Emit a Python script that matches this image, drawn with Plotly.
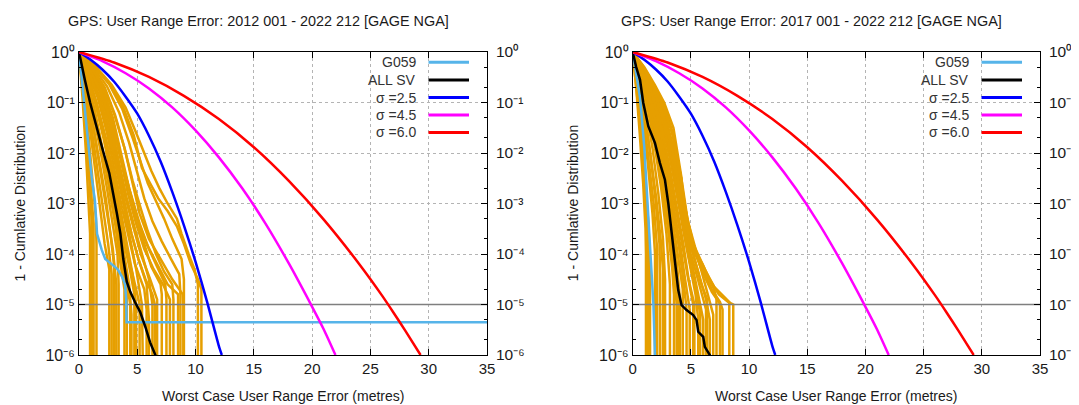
import plotly.graph_objects as go

# page is rendered with an 8px body margin; figure fills the rest of the 1079x405 window
PAGE_OFF = 8
W, H = 1079 - PAGE_OFF, 405 - PAGE_OFF

# ---------------- data ----------------
titles = ["GPS: User Range Error: 2012 001 - 2022 212 [GAGE NGA]",
          "GPS: User Range Error: 2017 001 - 2022 212 [GAGE NGA]"]
x_title = "Worst Case User Range Error (metres)"
y_title = "1 - Cumlative Distribution"
legend_names = ["G059", "ALL SV", "σ =2.5", "σ =4.5", "σ =6.0"]

y_tickvals = [1, 1e-1, 1e-2, 1e-3, 1e-4, 1e-5, 1e-6]
y_ticktext = ["10⁰", "10⁻¹", "10⁻²", "10⁻³", "10⁻⁴", "10⁻⁵", "10⁻⁶"]
y_minorvals = [m * 10.0 ** (-k) for k in range(1, 7) for m in (2, 5)]
x_tickvals = [0, 5, 10, 15, 20, 25, 30, 35]
threshold = 1e-5

# sigma reference curves
sig25_x = [0, 1, 2, 3, 4, 5, 6, 7, 8, 9, 10, 11, 12, 12.25]
sig25_p = [1, 0.70, 0.45, 0.26, 0.13, 0.06, 0.022, 0.0068, 0.0017, 0.00037, 7e-5, 1.1e-5, 1.5e-6, 1e-6]
sig45_x = [0, 2, 4, 6, 8, 10, 12, 14, 16, 18, 20, 21, 22]
sig45_p = [1, 0.66, 0.38, 0.19, 0.08, 0.028, 0.0082, 0.002, 0.0004, 6.5e-5, 9e-6, 3.2e-6, 1e-6]
sig60_x = [0, 3, 6, 9, 12, 15, 18, 21, 24, 26, 27, 28, 29.3]
sig60_p = [1, 0.62, 0.32, 0.135, 0.047, 0.013, 0.0028, 0.00048, 6.5e-5, 1.5e-5, 6.8e-6, 3e-6, 1e-6]

# left panel (2012-2022): G059 and ALL SV, log10 of probability
left_g059_x = [0, 0.25, 0.5, 0.8, 1.1, 1.37, 1.55, 1.95, 2.25, 2.9, 3.3, 3.7, 3.95, 4.05, 4.08, 35]
left_g059_e = [0, -0.6, -1.2, -1.9, -2.5, -2.95, -3.6, -3.92, -4.1, -4.22, -4.3, -4.45, -4.6, -4.9, -5.35, -5.35]
left_all_x = [0, 0.2, 0.5, 0.95, 1.5, 2.05, 2.6, 3.0, 3.25, 3.55, 3.8, 4.1, 4.4, 4.8, 5.25, 5.7, 6.1, 6.55, 6.6]
left_all_e = [0, -0.25, -0.55, -1.0, -1.5, -1.95, -2.4, -2.85, -3.2, -3.6, -4.1, -4.55, -4.75, -4.95, -5.15, -5.45, -5.75, -6.0, -6.3]

# left panel individual SVs (x, log10 p)
left_sv_x = [
    [0, 0.3, 0.6, 0.85, 0.95, 0.95],
    [0, 0.35, 0.7, 1.0, 1.1, 1.1],
    [0, 0.4, 0.8, 1.2, 1.45, 1.5, 1.5],
    [0, 0.5, 1.0, 1.5, 2.0, 2.5, 2.8, 2.8],
    [0, 0.5, 1.1, 1.7, 2.3, 2.7, 3.0, 3.0],
    [0, 0.6, 1.2, 1.8, 2.4, 2.9, 3.3, 3.4, 3.4],
    [0, 0.6, 1.3, 2.0, 2.6, 3.1, 3.5, 3.9, 3.9],
    [0, 0.7, 1.4, 2.1, 2.8, 3.3, 3.8, 4.3, 4.5, 4.5],
    [0, 0.7, 1.5, 2.2, 2.9, 3.5, 4.0, 4.6, 5.2, 5.2],
    [0, 0.8, 1.6, 2.4, 3.1, 3.7, 4.3, 4.8, 5.6, 5.8, 5.8],
    [0, 0.8, 1.7, 2.5, 3.2, 3.9, 4.5, 5.1, 5.8, 6.0, 6.0],
    [0, 0.9, 1.8, 2.6, 3.3, 4.0, 4.7, 5.3, 6.1, 6.7, 6.7],
    [0, 1.0, 2.0, 2.8, 3.5, 4.2, 4.9, 5.6, 6.4, 7.2, 7.8, 7.8],
    [0, 1.0, 2.0, 2.9, 3.6, 4.3, 5.0, 5.8, 6.7, 7.6, 8.5, 8.5],
    [0, 1.1, 2.2, 3.1, 3.9, 4.6, 5.2, 6.0, 7.0, 8.0, 8.9, 8.95, 8.95],
    [0, 1.4, 2.8, 4.0, 4.9, 5.6, 6.2, 6.9, 7.6, 8.4, 8.8, 9.4, 9.9, 10.2, 10.2],
    [0, 1.3, 2.6, 3.8, 4.7, 5.4, 6.1, 6.8, 7.6, 8.4, 9.0, 9.6, 10.2, 10.5, 10.5],
    [0, 0.45, 0.9, 1.35, 1.8, 2.2, 2.6, 2.6],
    [0, 0.55, 1.1, 1.6, 2.1, 2.5, 2.9, 3.2, 3.2],
    [0, 0.65, 1.3, 1.9, 2.5, 3.1, 3.6, 4.1, 4.1],
    [0, 0.75, 1.5, 2.3, 3.0, 3.6, 4.1, 4.6, 4.9, 4.9],
    [0, 0.85, 1.7, 2.5, 3.2, 3.8, 4.4, 4.9, 5.4, 5.5],
    [0, 0.9, 1.9, 2.7, 3.4, 4.1, 4.8, 5.4, 6.0, 6.3, 6.3],
    [0, 0.95, 1.9, 2.8, 3.6, 4.3, 5.2, 6.0, 6.8, 7.4, 7.5, 7.5],
    [0, 0.55, 1.2, 1.9, 2.6, 3.2, 3.7, 4.2, 4.4, 4.4],
    [0, 0.9, 1.85, 2.75, 3.55, 4.3, 5.0, 5.6, 6.2, 7.0, 7.1, 7.1],
    [0, 1.05, 2.1, 3.05, 3.9, 4.6, 5.3, 5.9, 6.6, 7.3, 8.0, 8.1, 8.1],
    [0, 1.15, 2.4, 3.45, 4.3, 5.0, 5.6, 6.3, 7.1, 7.9, 8.6, 8.7, 8.7],
    [0, 0.3, 0.65, 0.95, 1.25, 1.25],
    [0, 0.7, 1.45, 2.2, 2.9, 3.45, 3.95, 4.4, 4.75, 4.75],
    [0, 1.25, 2.6, 3.7, 4.6, 5.3, 5.9, 6.6, 7.3, 8.0, 8.8, 9.0, 9.0],
    [0, 0.8, 1.65, 2.45, 3.15, 3.8, 4.5, 5.1, 5.7, 6.3, 6.5, 6.5],
]
left_sv_e = [
    [0, -0.9, -2.0, -3.0, -3.6, -6.5],
    [0, -0.8, -1.8, -2.9, -3.4, -6.5],
    [0, -0.7, -1.6, -2.6, -3.3, -3.8, -6.5],
    [0, -0.65, -1.4, -2.2, -3.0, -3.8, -4.4, -6.5],
    [0, -0.55, -1.3, -2.1, -2.9, -3.6, -4.2, -6.5],
    [0, -0.5, -1.2, -1.9, -2.7, -3.4, -4.0, -4.6, -6.5],
    [0, -0.5, -1.1, -1.9, -2.7, -3.4, -4.1, -4.7, -6.5],
    [0, -0.45, -1.0, -1.7, -2.5, -3.2, -3.9, -4.6, -5.2, -6.5],
    [0, -0.4, -1.0, -1.7, -2.5, -3.3, -3.9, -4.4, -5.0, -6.5],
    [0, -0.4, -0.9, -1.6, -2.4, -3.1, -3.7, -4.2, -4.7, -5.1, -6.5],
    [0, -0.35, -0.85, -1.5, -2.3, -3.0, -3.6, -4.1, -4.6, -5.3, -6.5],
    [0, -0.35, -0.8, -1.45, -2.2, -2.9, -3.5, -4.0, -4.5, -4.9, -6.5],
    [0, -0.3, -0.75, -1.35, -2.05, -2.8, -3.4, -3.9, -4.3, -4.6, -4.9, -6.5],
    [0, -0.3, -0.7, -1.3, -2.0, -2.7, -3.3, -3.8, -4.2, -4.6, -4.8, -6.5],
    [0, -0.3, -0.7, -1.25, -1.9, -2.6, -3.2, -3.7, -4.1, -4.5, -4.8, -5.0, -6.5],
    [0, -0.28, -0.65, -1.1, -1.6, -2.0, -2.35, -2.7, -3.0, -3.3, -3.6, -4.0, -4.3, -4.6, -6.5],
    [0, -0.27, -0.62, -1.1, -1.65, -2.3, -2.6, -2.9, -3.15, -3.45, -3.8, -4.2, -4.5, -4.7, -6.5],
    [0, -0.6, -1.45, -2.3, -3.1, -3.8, -4.3, -6.5],
    [0, -0.55, -1.3, -2.0, -2.7, -3.3, -3.9, -4.6, -6.5],
    [0, -0.5, -1.15, -1.8, -2.5, -3.3, -4.0, -4.8, -6.5],
    [0, -0.45, -1.0, -1.7, -2.45, -3.2, -3.8, -4.4, -5.0, -6.5],
    [0, -0.38, -0.9, -1.55, -2.3, -3.0, -3.7, -4.3, -5.0, -6.5],
    [0, -0.33, -0.8, -1.4, -2.15, -2.9, -3.5, -4.0, -4.5, -5.0, -6.5],
    [0, -0.32, -0.78, -1.4, -2.1, -2.7, -3.4, -3.9, -4.3, -4.6, -4.9, -6.5],
    [0, -0.5, -1.15, -1.85, -2.6, -3.3, -4.0, -4.7, -5.0, -6.5],
    [0, -0.33, -0.78, -1.38, -2.05, -2.75, -3.35, -3.8, -4.25, -4.6, -4.8, -6.5],
    [0, -0.3, -0.7, -1.25, -1.9, -2.55, -3.1, -3.55, -4.0, -4.35, -4.6, -4.9, -6.5],
    [0, -0.28, -0.68, -1.2, -1.8, -2.4, -2.9, -3.35, -3.75, -4.1, -4.4, -4.8, -6.5],
    [0, -0.7, -1.6, -2.5, -3.4, -6.5],
    [0, -0.45, -1.05, -1.75, -2.55, -3.25, -3.85, -4.35, -4.8, -6.5],
    [0, -0.27, -0.64, -1.12, -1.7, -2.2, -2.6, -2.95, -3.3, -3.7, -4.1, -4.5, -6.5],
    [0, -0.38, -0.88, -1.5, -2.2, -2.9, -3.6, -4.1, -4.5, -4.8, -5.0, -6.5],
]

# right panel (2017-2022)
right_g059_x = [0, 0.3, 0.63, 1.0, 1.27, 1.45, 1.63, 1.78, 1.91, 1.91]
right_g059_e = [0, -0.45, -0.9, -1.9, -2.95, -3.6, -4.25, -5.0, -6.0, -6.5]
right_all_x = [0, 0.3, 0.63, 0.91, 1.34, 1.91, 2.34, 2.77, 3.06, 3.35, 3.63, 3.91, 4.2, 4.63, 5.2, 5.49, 5.63, 6.06, 6.2, 6.63, 6.65]
right_all_e = [0, -0.3, -0.55, -1.01, -1.47, -1.8, -2.2, -2.53, -3.0, -3.55, -4.12, -4.71, -5.01, -5.11, -5.21, -5.31, -5.54, -5.64, -5.84, -6.0, -6.3]

right_sv_x = [
    [0, 0.3, 0.6, 0.9, 1.1, 1.14, 1.14],
    [0, 0.35, 0.7, 1.05, 1.35, 1.49, 1.49],
    [0, 0.4, 0.85, 1.3, 1.7, 1.92, 1.92],
    [0, 0.45, 1.0, 1.5, 1.95, 2.3, 2.35, 2.35],
    [0, 0.5, 1.1, 1.7, 2.2, 2.6, 2.78, 2.78],
    [0, 0.55, 1.2, 1.85, 2.45, 2.9, 3.2, 3.2],
    [0, 0.6, 1.3, 2.0, 2.6, 3.1, 3.5, 3.78, 3.78],
    [0, 0.65, 1.4, 2.1, 2.75, 3.3, 3.8, 4.06, 4.06],
    [0, 0.7, 1.5, 2.25, 2.9, 3.5, 4.0, 4.4, 4.63, 4.63],
    [0, 0.75, 1.6, 2.4, 3.1, 3.7, 4.2, 4.7, 5.2, 5.2],
    [0, 0.8, 1.7, 2.5, 3.3, 3.9, 4.4, 4.9, 5.4, 5.63, 5.63],
    [0, 0.8, 1.65, 2.45, 3.2, 3.9, 4.5, 5.1, 5.6, 6.06, 6.06],
    [0, 0.8, 1.7, 2.5, 3.3, 4.0, 4.6, 5.2, 5.8, 6.3, 6.63, 6.63],
    [0, 0.85, 1.8, 2.6, 3.45, 4.15, 4.8, 5.4, 6.0, 6.5, 6.92, 6.92],
    [0, 0.9, 1.85, 2.65, 3.5, 4.25, 4.7, 5.2, 5.9, 6.8, 7.5, 7.72, 7.72],
    [0, 1.0, 1.9, 2.7, 3.5, 4.2, 4.5, 5.0, 5.5, 6.0, 6.6, 7.4, 8.2, 8.64, 8.64],
    [0, 0.5, 1.0, 1.5, 2.0, 2.4, 2.6, 2.6],
    [0, 0.62, 1.35, 2.05, 2.7, 3.2, 3.6, 3.9, 3.9],
    [0, 0.72, 1.55, 2.3, 3.0, 3.6, 4.1, 4.5, 4.9, 4.9],
    [0, 0.82, 1.75, 2.6, 3.4, 4.0, 4.6, 5.2, 5.6, 5.8, 5.8],
    [0, 0.8, 1.7, 2.5, 3.3, 4.0, 4.6, 5.0, 5.6, 6.2, 6.3, 6.3],
    [0, 0.9, 1.8, 2.6, 3.4, 4.2, 4.8, 5.3, 6.0, 6.8, 7.4, 7.5, 7.5],
    [0, 0.4, 0.9, 1.35, 1.8, 2.1, 2.1],
    [0, 0.58, 1.25, 1.9, 2.5, 3.0, 3.4, 3.55, 3.55],
    [0, 0.68, 1.45, 2.2, 2.85, 3.4, 3.9, 4.3, 4.3],
    [0, 0.85, 1.75, 2.55, 3.35, 4.05, 4.6, 5.05, 5.5, 5.9, 6.4, 6.4],
    [0, 0.95, 1.85, 2.65, 3.45, 4.15, 4.55, 5.0, 5.6, 6.3, 7.0, 7.2, 7.2],
    [0, 0.76, 1.6, 2.4, 3.15, 3.8, 4.35, 4.8, 5.3, 5.3],
    [0, 0.3, 0.65, 1.0, 1.25, 1.3, 1.3],
    [0, 0.9, 1.8, 2.6, 3.4, 4.1, 4.6, 5.1, 5.7, 6.3, 7.0, 7.9, 8.3, 8.3],
]
right_sv_e = [
    [0, -0.7, -1.6, -2.6, -3.5, -4.0, -6.5],
    [0, -0.6, -1.4, -2.4, -3.4, -4.2, -6.5],
    [0, -0.55, -1.3, -2.2, -3.2, -4.0, -6.5],
    [0, -0.5, -1.2, -2.0, -2.9, -3.8, -4.4, -6.5],
    [0, -0.45, -1.1, -1.9, -2.8, -3.7, -4.5, -6.5],
    [0, -0.42, -1.0, -1.8, -2.7, -3.6, -4.6, -6.5],
    [0, -0.4, -0.95, -1.7, -2.6, -3.4, -4.2, -5.0, -6.5],
    [0, -0.38, -0.9, -1.6, -2.5, -3.3, -4.2, -4.9, -6.5],
    [0, -0.36, -0.85, -1.55, -2.4, -3.2, -3.9, -4.6, -5.1, -6.5],
    [0, -0.34, -0.8, -1.5, -2.3, -3.1, -3.8, -4.4, -5.0, -6.5],
    [0, -0.32, -0.76, -1.4, -2.2, -3.0, -3.6, -4.2, -4.8, -5.3, -6.5],
    [0, -0.32, -0.75, -1.35, -2.1, -2.9, -3.6, -4.2, -4.75, -5.3, -6.5],
    [0, -0.3, -0.72, -1.25, -2.0, -2.8, -3.5, -4.0, -4.5, -4.9, -5.3, -6.5],
    [0, -0.3, -0.7, -1.15, -1.9, -2.7, -3.4, -3.9, -4.4, -4.8, -5.2, -6.5],
    [0, -0.3, -0.68, -1.05, -1.7, -2.6, -3.3, -3.8, -4.3, -4.7, -4.95, -5.1, -6.5],
    [0, -0.3, -0.65, -1.0, -1.5, -2.5, -3.5, -3.8, -4.0, -4.2, -4.5, -4.8, -4.95, -5.0, -6.5],
    [0, -0.5, -1.15, -1.95, -2.85, -3.7, -4.3, -6.5],
    [0, -0.4, -0.95, -1.65, -2.55, -3.35, -4.1, -4.8, -6.5],
    [0, -0.35, -0.82, -1.5, -2.35, -3.15, -3.85, -4.5, -5.1, -6.5],
    [0, -0.31, -0.74, -1.35, -2.15, -2.95, -3.8, -4.5, -4.9, -5.2, -6.5],
    [0, -0.3, -0.72, -1.25, -2.0, -2.8, -3.6, -4.0, -4.5, -5.0, -5.1, -6.5],
    [0, -0.3, -0.7, -1.1, -1.8, -2.6, -3.5, -3.95, -4.35, -4.75, -4.95, -5.0, -6.5],
    [0, -0.52, -1.25, -2.1, -3.0, -3.9, -6.5],
    [0, -0.42, -1.0, -1.75, -2.6, -3.45, -4.3, -4.8, -6.5],
    [0, -0.37, -0.87, -1.6, -2.45, -3.25, -4.05, -4.7, -6.5],
    [0, -0.3, -0.72, -1.2, -1.9, -2.7, -3.5, -3.9, -4.3, -4.6, -4.9, -6.5],
    [0, -0.3, -0.67, -1.05, -1.6, -2.5, -3.4, -3.8, -4.1, -4.4, -4.7, -4.9, -6.5],
    [0, -0.33, -0.79, -1.45, -2.25, -3.05, -3.8, -4.5, -5.0, -6.5],
    [0, -0.65, -1.5, -2.5, -3.5, -4.1, -6.5],
    [0, -0.3, -0.68, -1.05, -1.6, -2.5, -3.3, -3.75, -4.05, -4.35, -4.65, -4.85, -4.95, -6.5],
]

# ---------------- styling ----------------
ORANGE = "#E69F00"
LBLUE = "#56B4E9"
COLORS = [LBLUE, "black", "#0000FF", "#FF00FF", "#FF0000"]
FONT = "Liberation Sans, Arial, sans-serif"
TXT = "#1a1a1a"
GRID = "#b4b4b4"

# page-pixel geometry of the two panels
panels = [dict(x0=79, x1=487), dict(x0=632.7, x1=1040)]
PY0, PY1 = 52, 355


def px(x):
    return (x - PAGE_OFF) / W


def py(y):
    return 1 - (y - PAGE_OFF) / H


def pw(es):
    return [10.0 ** e for e in es]


fig = go.Figure()

sv_x = [left_sv_x, right_sv_x]
sv_e = [left_sv_e, right_sv_e]
g_x = [left_g059_x, right_g059_x]
g_e = [left_g059_e, right_g059_e]
a_x = [left_all_x, right_all_x]
a_e = [left_all_e, right_all_e]

for i in range(2):
    xa = "x" if i == 0 else "x2"
    ya = "y" if i == 0 else "y2"
    for xs, es in zip(sv_x[i], sv_e[i]):
        fig.add_trace(go.Scatter(x=xs, y=pw(es), mode="lines", xaxis=xa, yaxis=ya,
                                 line=dict(color=ORANGE, width=2.5), showlegend=False,
                                 hoverinfo="skip"))
    fig.add_trace(go.Scatter(x=[0, 35], y=[threshold, threshold], mode="lines", xaxis=xa, yaxis=ya,
                             line=dict(color="#7f7f7f", width=1.5), showlegend=False))
    fig.add_trace(go.Scatter(x=g_x[i], y=pw(g_e[i]), mode="lines", xaxis=xa, yaxis=ya,
                             line=dict(color=COLORS[0], width=2.5), name=legend_names[0], showlegend=False))
    fig.add_trace(go.Scatter(x=a_x[i], y=pw(a_e[i]), mode="lines", xaxis=xa, yaxis=ya,
                             line=dict(color=COLORS[1], width=2.5), name=legend_names[1], showlegend=False))
    for (sx, sp), c, nm in zip([(sig25_x, sig25_p), (sig45_x, sig45_p), (sig60_x, sig60_p)],
                               COLORS[2:], legend_names[2:]):
        fig.add_trace(go.Scatter(x=sx, y=sp, mode="lines", xaxis=xa, yaxis=ya,
                                 line=dict(color=c, width=2.5, shape="spline", smoothing=0.6),
                                 name=nm, showlegend=False))
    fig.add_trace(go.Scatter(x=[None], y=[None], xaxis=xa, yaxis="y3" if i == 0 else "y4",
                             showlegend=False, hoverinfo="skip"))

ydom = [py(PY1), py(PY0)]
common_x = dict(range=[0, 35], tickvals=x_tickvals, ticks="inside", ticklen=6, tickcolor="black",
                showline=True, linecolor="black", linewidth=1, mirror="ticks", automargin=False,
                showgrid=True, gridcolor=GRID, griddash="dot", gridwidth=1, zeroline=False,
                tickfont=dict(family=FONT, size=15, color=TXT))
common_y = dict(type="log", range=[-6, 0], tickvals=y_tickvals, ticktext=y_ticktext,
                ticks="inside", ticklen=6, tickcolor="black", automargin=False,
                minor=dict(tickvals=y_minorvals, ticks="inside", ticklen=3, tickcolor="black", showgrid=False),
                showline=True, linecolor="black", linewidth=1, mirror="ticks",
                showgrid=True, gridcolor=GRID, griddash="dot", gridwidth=1, zeroline=False,
                tickfont=dict(family=FONT, size=16, color=TXT), domain=ydom)
right_y = dict(type="log", range=[-6, 0], tickvals=y_tickvals, ticktext=y_ticktext, side="right",
               ticks="", showline=False, showgrid=False, zeroline=False, automargin=False,
               ticklabeloverflow="allow", ticklabelstandoff=8,
               tickfont=dict(family=FONT, size=15.5, color=TXT))

fig.update_layout(
    width=W, height=H, autosize=False, margin=dict(l=0, r=0, t=0, b=0, autoexpand=False),
    paper_bgcolor="white", plot_bgcolor="white", showlegend=False,
    xaxis=dict(domain=[px(panels[0]["x0"]), px(panels[0]["x1"])], anchor="y", **common_x),
    xaxis2=dict(domain=[px(panels[1]["x0"]), px(panels[1]["x1"])], anchor="y2", **common_x),
    yaxis=dict(anchor="x", **common_y),
    yaxis2=dict(anchor="x2", **common_y),
    yaxis3=dict(overlaying="y", anchor="x", **right_y),
    yaxis4=dict(overlaying="y2", anchor="x2", **right_y),
)

shapes = []
annotations = []
leg_rows = [62.3, 80, 97.5, 115, 132.5]
title_cx = [258, 811.7]
for i, p in enumerate(panels):
    off = p["x1"]
    shapes.append(dict(type="rect", xref="paper", yref="paper", x0=px(off - 121), x1=px(off - 1.5),
                       y0=py(157), y1=py(53), fillcolor="white", line=dict(width=0), layer="between"))
    for r, (nm, c) in enumerate(zip(legend_names, COLORS)):
        annotations.append(dict(xref="paper", yref="paper", x=px(off - 69), y=py(leg_rows[r]),
                                text=nm, showarrow=False, xanchor="right", yanchor="middle",
                                font=dict(family=FONT, size=14, color="#333333")))
        shapes.append(dict(type="line", xref="paper", yref="paper", x0=px(off - 58.5), x1=px(off - 18),
                           y0=py(leg_rows[r]), y1=py(leg_rows[r]), line=dict(color=c, width=3)))
    annotations.append(dict(xref="paper", yref="paper", x=px(title_cx[i]), y=py(21), text=titles[i],
                            showarrow=False, xanchor="center", yanchor="middle",
                            font=dict(family=FONT, size=14.4, color=TXT)))
    annotations.append(dict(xref="paper", yref="paper", x=px((p["x0"] + p["x1"]) / 2), y=py(396),
                            text=x_title, showarrow=False, xanchor="center", yanchor="middle",
                            font=dict(family=FONT, size=14, color=TXT)))
    annotations.append(dict(xref="paper", yref="paper", x=px(p["x0"] - 60), y=py(203.5),
                            text=y_title, showarrow=False, xanchor="center", yanchor="middle",
                            textangle=-90, font=dict(family=FONT, size=14, color=TXT)))

fig.update_layout(shapes=shapes, annotations=annotations)
fig.write_html("out.html",
               post_script="document.documentElement.style.overflow='hidden';"
                           "document.body.style.overflow='hidden';")
